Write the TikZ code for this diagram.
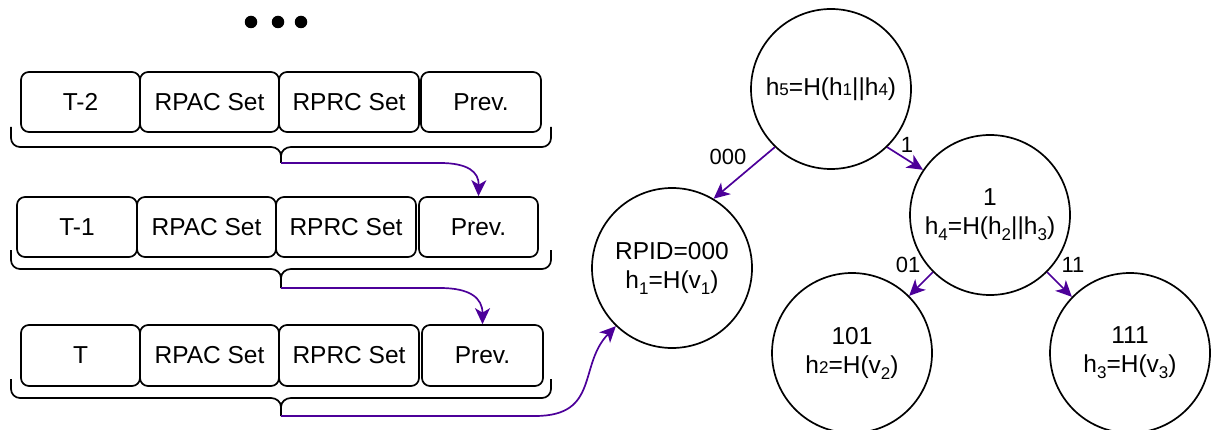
\documentclass[tikz,border=0pt]{standalone}
\usepackage{fontspec}
\setmainfont{Liberation Sans}
\usetikzlibrary{arrows.meta}
\definecolor{arrpurple}{RGB}{76,0,153}
\newcommand{\sdig}[1]{{\fontsize{17}{17}\selectfont #1}}
\newcommand{\sbsc}[1]{\raisebox{-6pt}{\fontsize{17}{17}\selectfont #1}}
\begin{document}
\begin{tikzpicture}[x=1pt,y=-1pt,
  cellbox/.style={draw=black, line width=1.7pt, rounded corners=8pt, minimum height=60pt, inner sep=0pt, font=\fontsize{24.5}{29}\selectfont},
  brace/.style={draw=black, line width=1.7pt},
  arr/.style={draw=arrpurple, line width=1.7pt, -{Stealth[length=16pt,width=15pt,inset=4.5pt]}},
  treenode/.style={circle, draw=black, line width=1.7pt, minimum size=160pt, inner sep=0pt, align=center, font=\fontsize{24.5}{29}\selectfont},
  elabel/.style={font=\fontsize{22}{24}\selectfont, inner sep=0pt},
  dot/.style={circle, fill=black, minimum size=12.5pt, inner sep=0pt}
]
\useasboundingbox (0,0) rectangle (1214,430);
% dots
\node[dot] (d1) at (251,22) {};
\node[dot] (d2) at (278,22) {};
\node[dot] (d3) at (301,22) {};
% row 1
\node[cellbox, minimum width=119pt] (t1) at (80.5,102) {T-2};
\node[cellbox, minimum width=139pt] (a1) at (209.5,102) {RPAC Set};
\node[cellbox, minimum width=140pt] (c1) at (349,102) {RPRC Set};
\node[cellbox, minimum width=120pt] (p1) at (481,102) {Prev.};
% row 2
\node[cellbox, minimum width=120pt] (t2) at (77,227) {T-1};
\node[cellbox, minimum width=139pt] (a2) at (206.5,227) {RPAC Set};
\node[cellbox, minimum width=140pt] (c2) at (346,227) {RPRC Set};
\node[cellbox, minimum width=119pt] (p2) at (478.5,227) {Prev.};
% row 3
\node[cellbox, minimum width=119pt, minimum height=61pt] (t3) at (80.5,355.5) {T};
\node[cellbox, minimum width=139pt, minimum height=61pt] (a3) at (209.5,355.5) {RPAC Set};
\node[cellbox, minimum width=140pt, minimum height=61pt] (c3) at (349,355.5) {RPRC Set};
\node[cellbox, minimum width=121pt, minimum height=61pt] (p3) at (482.5,355.5) {Prev.};
% braces
\foreach \yt/\ym/\yb/\nm in {127/147/163/b1, 250/269/288/b2, 379/398/416/b3}{
  \draw[brace] (11,\yt) -- (11,\ym-9) to[out=-90,in=180] (20,\ym) -- (271,\ym) to[out=0,in=90] (281,\ym+9) -- (281,\yb);
  \draw[brace] (281,\ym+9) to[out=90,in=180] (291,\ym) -- (542,\ym) to[out=0,in=-90] (551,\ym-9) -- (551,\yt);
  \coordinate (\nm) at (281,\yb);
}
% tree
\node[treenode] (h5) at (831,89) {h\sdig{5}=H(h\sdig{1}||h\sdig{4})};
\node[treenode] (rpid) at (672,268) {RPID=000\\h\sbsc{1}=H(v\sbsc{1})};
\node[treenode] (h4) at (990,215) {1\\h\sbsc{4}=H(h\sbsc{2}||h\sbsc{3})};
\node[treenode] (n101) at (852,353) {101\\h\sdig{2}=H(v\sbsc{2})};
\node[treenode] (n111) at (1130,353) {111\\h\sbsc{3}=H(v\sbsc{3})};
% chain arrows
\draw[arr] (b1) -- (440,163) .. controls (468,163) and (479,172) .. (p2.north);
\draw[arr] (b2) -- (440,288) .. controls (470,288) and (482.5,298) .. (p3.north);
\draw[arr] (b3) -- (535,416) .. controls (600,416) and (578,365) .. (rpid.226);
% tree arrows
\draw[arr] (h5.226) -- (rpid.59);
\draw[arr] (h5.314) -- (h4.146);
\draw[arr] (h4.225) -- (n101.45);
\draw[arr] (h4.315) -- (n111.136);
% edge labels
\node[elabel] (l000) at (728,157) {000};
\node[elabel] (l1) at (907,145) {1};
\node[elabel] (l01) at (908,265) {01};
\node[elabel] (l11) at (1073,265) {11};
\end{tikzpicture}
\end{document}
